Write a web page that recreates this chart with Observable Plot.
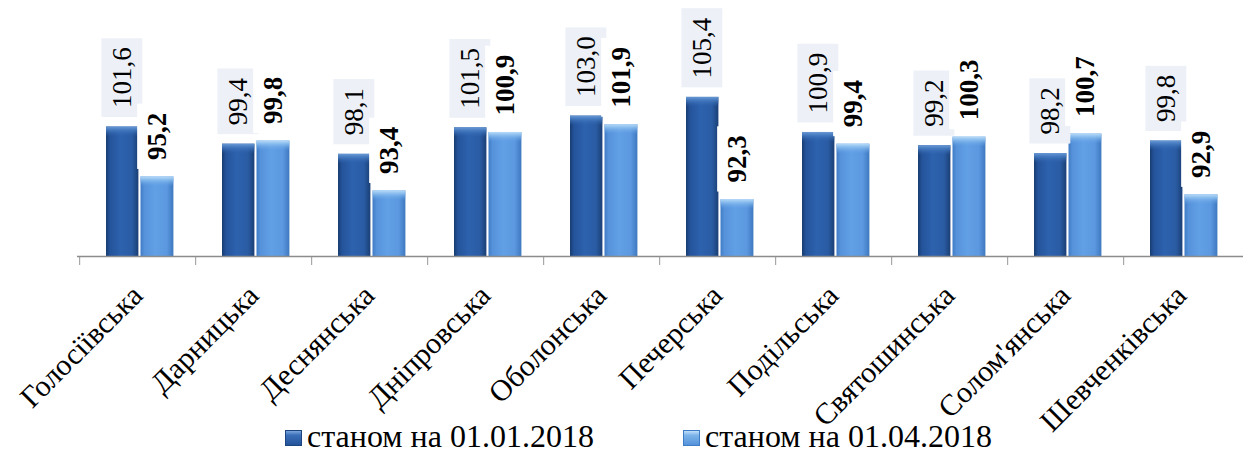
<!DOCTYPE html>
<html><head><meta charset="utf-8">
<script src="https://cdn.jsdelivr.net/npm/d3@7"></script>
<script src="https://cdn.jsdelivr.net/npm/@observablehq/plot@0.6"></script>
<style>
html,body{margin:0;padding:0;background:#fff;}
#wrap{position:relative;width:1243px;height:454px;overflow:hidden;}
.legend-item{position:absolute;top:420px;height:32px;display:flex;align-items:center;font-family:"Liberation Serif","Times New Roman",serif;font-size:32px;line-height:32px;color:#000;white-space:nowrap;}
.sw{width:17px;height:16px;margin-right:5px;margin-top:3px;box-sizing:border-box;}
.sw.dark{background:linear-gradient(180deg,#7aa6dc 0%,#3a6fb8 30%,#24539a 100%);border:1px solid #1c447e;}
.sw.light{background:linear-gradient(180deg,#c2e0fa 0%,#7db5ea 30%,#5592da 100%);border:1px solid #3f7cc6;}
#wrap svg, #wrap svg text{font-family:"Liberation Serif","Times New Roman",serif;}
</style></head><body><div id="wrap"></div>
<script>
const districts = ["Голосіївська","Дарницька","Деснянська","Дніпровська","Оболонська","Печерська","Подільська","Святошинська","Солом'янська","Шевченківська"];
const valuesJan = [101.6, 99.4, 98.1, 101.5, 103.0, 105.4, 100.9, 99.2, 98.2, 99.8];
const valuesApr = [95.2, 99.8, 93.4, 100.9, 101.9, 92.3, 99.4, 100.3, 100.7, 92.9];
const seriesNames = ["станом на 01.01.2018", "станом на 01.04.2018"];
const yDomain = [85, 110];

const rows = districts.map((d, i) => ({district: d, jan: valuesJan[i], apr: valuesApr[i]}));
const fmt = v => v.toFixed(1).replace(".", ",");
const W = 1243, H = 454, mL = 77;
const step = (W - mL) / districts.length;
const serif = "Liberation Serif";
const yMin = yDomain[0];

const darkIn = {insetLeft: 26, insetRight: step - 59};
const lightIn = {insetLeft: 60.5, insetRight: step - 94};

const chart = Plot.plot({
  width: W, height: H,
  marginLeft: mL, marginRight: 0, marginTop: 61, marginBottom: 198,
  x: {domain: districts, padding: 0, axis: null},
  y: {domain: yDomain, axis: null},
  style: {background: "white", overflow: "visible", fontFamily: serif},
  marks: [
    Plot.barY(rows, {x: "district", y1: yMin, y2: "jan", fill: "url(#gDark)", ...darkIn}),
    Plot.barY(rows, {x: "district", y1: "jan", y2: "jan", insetBottom: -10, fill: "url(#capDark)", ...darkIn}),
    Plot.barY(rows, {x: "district", y1: yMin, y2: "apr", fill: "url(#gLight)", ...lightIn}),
    Plot.barY(rows, {x: "district", y1: "apr", y2: "apr", insetBottom: -10, fill: "url(#capLight)", ...lightIn}),
    Plot.ruleY([yMin], {stroke: "#8c8c8c", strokeWidth: 1.5}),
    Plot.barY(districts, {x: d => d, y1: yMin, y2: yMin, insetBottom: -9, insetLeft: -0.75, insetRight: step - 0.75, fill: "#8c8c8c"}),
    Plot.text(rows, {x: "district", y: "jan", text: d => fmt(d.jan), rotate: -90, textAnchor: "start", dx: 42.5 - step / 2, dy: -19, fontSize: 27, fontFamily: serif, fill: "#000"}),
    Plot.text(rows, {x: "district", y: "apr", text: d => fmt(d.apr), rotate: -90, textAnchor: "start", dx: 77.3 - step / 2, dy: -17, fontSize: 27, fontFamily: serif, fontWeight: "bold", fill: "#000"}),
    Plot.text(districts, {x: d => d, y: yMin, text: d => d, rotate: -45, textAnchor: "end", dx: -1, dy: 34, fontSize: 30, fontFamily: serif, fill: "#000"})
  ]
});

const wrap = document.getElementById("wrap");
wrap.appendChild(chart);

const svg = d3.select(chart);
const defs = svg.insert("defs", ":first-child");
function hGrad(id, stops) {
  const g = defs.append("linearGradient").attr("id", id).attr("x1", 0).attr("y1", 0).attr("x2", 1).attr("y2", 0);
  stops.forEach(([o, c, op]) => g.append("stop").attr("offset", o).attr("stop-color", c).attr("stop-opacity", op == null ? 1 : op));
}
function vGrad(id, stops) {
  const g = defs.append("linearGradient").attr("id", id).attr("x1", 0).attr("y1", 0).attr("x2", 0).attr("y2", 1);
  stops.forEach(([o, c, op]) => g.append("stop").attr("offset", o).attr("stop-color", c).attr("stop-opacity", op == null ? 1 : op));
}
hGrad("gDark", [[0, "#183c70"], [0.12, "#24539a"], [0.45, "#2d62ae"], [0.8, "#2a5ca4"], [1, "#1a3f75"]]);
hGrad("gLight", [[0, "#3f7cc6"], [0.12, "#5592da"], [0.45, "#62a0e6"], [0.8, "#5b98df"], [1, "#3e78c0"]]);
vGrad("capDark", [[0, "#6a9ad6", 1], [0.35, "#4a7fc4", 0.8], [1, "#2d62ae", 0]]);
vGrad("capLight", [[0, "#b8dcf9", 1], [0.35, "#90c2f0", 0.8], [1, "#62a0e6", 0]]);

// label background boxes
const textGroups = chart.querySelectorAll('g[aria-label="text"]');
function boxes(g, fill, padL, padR, padY) {
  g.querySelectorAll("text").forEach(t => {
    const b = t.getBBox();
    const r = document.createElementNS("http://www.w3.org/2000/svg", "rect");
    // rotated -90: local x runs up the screen, local y runs right on the screen
    r.setAttribute("x", b.x - padY);
    r.setAttribute("y", b.y + 2 - padL);
    r.setAttribute("width", b.width + 2 * padY);
    r.setAttribute("height", b.height - 5 + padL + padR);
    r.setAttribute("fill", fill);
    const tr = t.getAttribute("transform");
    if (tr) r.setAttribute("transform", tr);
    t.parentNode.insertBefore(r, t);
  });
}
boxes(textGroups[0], "#edf1f7", 8, 8, 9);
boxes(textGroups[1], "#ffffff", 7, 8, 9);

// legend
const legendLeft = [285, 683];
const swClass = ["dark", "light"];
seriesNames.forEach((name, i) => {
  const item = document.createElement("div");
  item.className = "legend-item";
  item.style.left = legendLeft[i] + "px";
  const sw = document.createElement("div");
  sw.className = "sw " + swClass[i];
  const tx = document.createElement("span");
  tx.textContent = name;
  item.appendChild(sw);
  item.appendChild(tx);
  wrap.appendChild(item);
});
</script>
</body></html>
